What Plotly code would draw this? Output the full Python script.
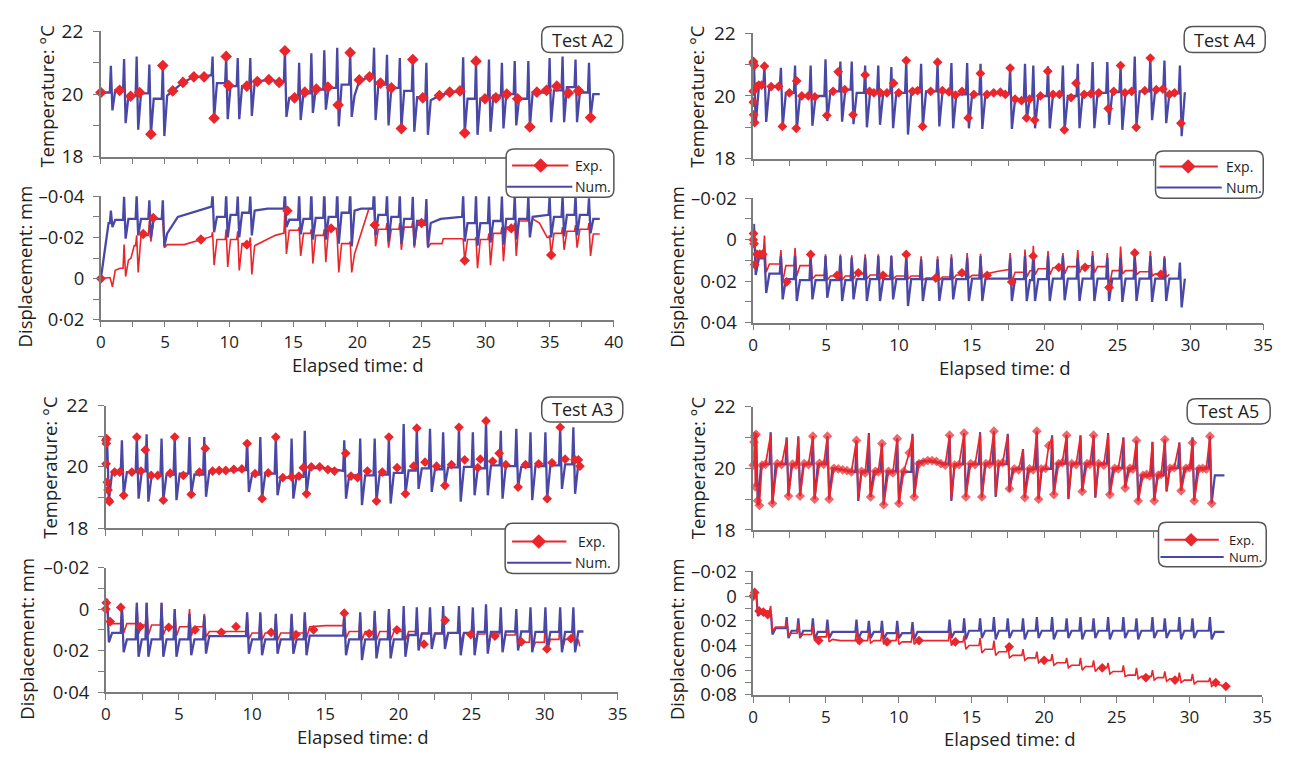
import plotly.graph_objects as go

W, H = 1295, 760
BLUE = '#4a48a6'
RED = '#e8262c'
AX = '#7c7c7c'
TXT = '#1e1e1e'
FONT = 'Open Sans'

# ---------------- tick definitions ----------------
X40_TICKS = [0, 2.5, 5, 7.5, 10, 12.5, 15, 17.5, 20, 22.5, 25, 27.5, 30, 32.5, 35, 37.5, 40]
X40_TEXT = ['0', '', '5', '', '10', '', '15', '', '20', '', '25', '', '30', '', '35', '', '40']
X35_TICKS = [0, 2.5, 5, 7.5, 10, 12.5, 15, 17.5, 20, 22.5, 25, 27.5, 30, 32.5, 35]
X35_TEXT = ['0', '', '5', '', '10', '', '15', '', '20', '', '25', '', '30', '', '35']
T_TICKS = [18, 19, 20, 21, 22]
T_TEXT = ['18', '', '20', '', '22']
D_A2_TICKS = [-0.04, -0.03, -0.02, -0.01, 0, 0.01, 0.02]
D_A2_TEXT = ['\u20130\u00b704', '', '\u20130\u00b702', '', '0', '', '0\u00b702']
D_A4_TICKS = [-0.02, -0.01, 0, 0.01, 0.02, 0.03, 0.04]
D_A4_TEXT = ['\u20130\u00b702', '', '0', '', '0\u00b702', '', '0\u00b704']
D_A5_TICKS = [-0.02, -0.01, 0, 0.01, 0.02, 0.03, 0.04, 0.05, 0.06, 0.07, 0.08]
D_A5_TEXT = ['\u20130\u00b702', '', '0', '', '0\u00b702', '', '0\u00b704', '', '0\u00b706', '', '0\u00b708']

# ================= TEST A2 =================
A2_cyc_t = [0.78, 1.81, 2.79, 3.78, 4.83, 8.71, 9.77, 10.67, 11.65, 14.35, 15.46, 16.41, 17.42, 18.43, 19.44,
            21.3, 22.31, 23.31, 24.32, 25.38, 28.25, 29.25, 30.26, 31.27, 32.27, 33.33, 34.99, 36.0, 37.01, 38.06]
A2_T_peak = [20.9, 21.12, 21.2, 20.94, 20.91, 21.2, 21.2, 21.15, 21.15, 21.38, 21.0, 21.3, 21.4, 21.48, 21.32,
             21.48, 21.25, 21.15, 21.1, 21.0, 21.17, 21.05, 21.1, 21.0, 21.05, 21.05, 21.15, 21.2, 21.1, 21.0]
A2_T_trough = [19.48, 19.07, 18.86, 18.7, 18.66, 19.23, 19.2, 19.2, 19.3, 19.27, 19.17, 19.4, 19.5, 18.97, 19.27,
               19.17, 19.0, 18.9, 18.8, 18.7, 18.76, 18.7, 18.8, 18.9, 19.0, 18.95, 19.1, 19.1, 19.1, 19.25]
A2_T_base = [20.12, 19.95, 20.02, 19.85, 19.95, 20.35, 20.25, 20.25, 20.35, 19.88, 20.02, 20.14, 20.2, 20.3, 19.95,
             20.3, 20.2, 20.1, 19.9, 19.8, 19.85, 19.85, 19.95, 20.0, 19.85, 20.05, 20.12, 20.22, 20.05, 20.0]
A2_T_knot_t = [5.6, 6.4, 7.25, 8.05, 8.55, 12.2, 13.1, 13.9, 20.15, 20.95, 26.4, 27.2, 28.0]
A2_T_knot_v = [20.1, 20.37, 20.55, 20.55, 20.6, 20.4, 20.46, 20.4, 20.42, 20.55, 19.95, 20.05, 20.1]
A2_Texp_t = [0.0, 1.46, 2.32, 3.02, 3.9, 4.83, 5.6, 6.4, 7.25, 8.05, 8.83, 9.77, 9.97, 11.38, 12.2, 13.1, 13.9,
             14.35, 15.1, 15.9, 16.8, 17.7, 18.5, 19.44, 20.15, 20.95, 21.8, 22.65, 23.43, 24.32, 25.1, 26.4, 27.2,
             28.0, 28.37, 29.25, 29.95, 30.8, 31.65, 32.5, 33.45, 34.0, 34.75, 35.55, 36.45, 37.25, 38.18]
A2_Texp_v = [20.05, 20.12, 19.93, 20.05, 18.72, 20.91, 20.1, 20.37, 20.55, 20.55, 19.23, 21.2, 20.27, 20.25, 20.4,
             20.46, 20.37, 21.38, 19.88, 20.06, 20.16, 20.22, 19.65, 21.32, 20.45, 20.55, 20.35, 20.2, 18.9, 21.1,
             19.88, 19.95, 20.06, 20.1, 18.76, 21.05, 19.85, 19.88, 20.0, 19.85, 18.95, 20.06, 20.12, 20.25, 20.03,
             20.1, 19.25]
A2_Dn_peak = [-0.033, -0.0397, -0.0406, -0.038, -0.038, -0.041, -0.041, -0.040, -0.040, -0.042, -0.041, -0.042,
              -0.043, -0.043, -0.042, -0.044, -0.041, -0.041, -0.0397, -0.0387, -0.0405, -0.0405, -0.040, -0.040,
              -0.0405, -0.0405, -0.040, -0.0405, -0.0405, -0.039]
A2_Dn_trough = [-0.025, -0.0194, -0.021, -0.0198, -0.0157, -0.0225, -0.020, -0.020, -0.021, -0.025, -0.0215,
                -0.019, -0.019, -0.017, -0.0157, -0.021, -0.018, -0.017, -0.016, -0.0155, -0.018, -0.016, -0.0175,
                -0.0165, -0.019, -0.020, -0.020, -0.0205, -0.021, -0.022]
A2_Dn_base = [-0.0285, -0.029, -0.029, -0.029, -0.022, -0.030, -0.031, -0.032, -0.033, -0.0286, -0.029, -0.0295,
              -0.030, -0.032, -0.033, -0.031, -0.030, -0.029, -0.028, -0.027, -0.027, -0.027, -0.028, -0.029,
              -0.029, -0.030, -0.030, -0.031, -0.031, -0.029]
A2_Dn_knot_t = [0.3, 0.6, 6.0, 7.5, 8.55, 13.0, 14.2, 20.3, 21.1, 26.5, 28.1, 34.7]
A2_Dn_knot_v = [-0.014, -0.027, -0.030, -0.033, -0.035, -0.034, -0.034, -0.034, -0.034, -0.029, -0.030, -0.031]
A2_De_peak = [0.001, -0.0166, -0.021, -0.028, -0.028, -0.0225, -0.024, -0.023, -0.020, -0.033, -0.025, -0.024,
              -0.024, -0.020, -0.018, -0.034, -0.027, -0.027, -0.028, -0.027, -0.019, -0.020, -0.022, -0.025,
              -0.027, -0.031, -0.021, -0.025, -0.026, -0.027]
A2_De_trough = [0.004, -0.001, -0.003, -0.018, -0.015, -0.0065, -0.0057, -0.004, -0.002, -0.012, -0.011, -0.0073,
                -0.008, -0.003, -0.003, -0.0157, -0.015, -0.014, -0.015, -0.015, -0.0088, -0.005, -0.0065, -0.0085,
                -0.011, -0.025, -0.0115, -0.014, -0.015, -0.011]
A2_De_base = [-0.004, -0.009, -0.021, -0.029, -0.0165, -0.019, -0.019, -0.017, -0.016, -0.0235, -0.022, -0.021,
              -0.0244, -0.017, -0.012, -0.024, -0.024, -0.025, -0.026, -0.017, -0.019, -0.019, -0.022, -0.025,
              -0.028, -0.029, -0.022, -0.023, -0.024, -0.0217]
A2_De_knot_t = [0.5, 1.5, 2.35, 2.6, 6.5, 7.8, 8.55, 12.6, 13.6, 14.2, 20.9, 26.6, 26.7, 28.1, 34.2, 34.8]
A2_De_knot_v = [-0.0005, -0.005, -0.010, -0.016, -0.0165, -0.019, -0.0205, -0.018, -0.021, -0.022, -0.034, -0.017,
                -0.0194, -0.0194, -0.027, -0.020]
A2_Demk_t = [0.0, 3.3, 4.08, 7.8, 11.38, 14.55, 17.95, 21.35, 25.0, 28.37, 32.0, 35.11]
A2_Demk_v = [0.0, -0.0217, -0.0295, -0.019, -0.0165, -0.033, -0.0244, -0.026, -0.027, -0.0088, -0.0244, -0.0115]

# ================= TEST A4 =================
A4_cyc_t = [0.05, 0.77, 1.9, 2.87, 3.94, 4.96, 5.98, 6.76, 7.68, 8.58, 9.48, 10.5, 11.52, 12.65, 13.6, 14.68, 15.6,
            17.63, 18.65, 19.22, 20.23, 21.25, 22.27, 23.29, 24.3, 25.21, 26.18, 27.25, 28.22, 29.28]
A4_T_peak = [21.1, 20.95, 20.9, 20.97, 20.97, 21.17, 21.1, 21.1, 20.97, 20.97, 20.92, 21.13, 21.03, 21.05, 21.05,
             21.05, 21.03, 20.9, 21.03, 20.97, 20.95, 20.97, 21.03, 21.08, 21.08, 20.97, 21.26, 21.21, 21.13, 20.97]
A4_T_trough = [19.1, 19.17, 19.02, 18.92, 19.05, 19.2, 19.18, 19.1, 19.0, 19.08, 18.97, 18.77, 19.02, 19.03, 18.97,
               18.97, 18.95, 18.95, 19.25, 18.97, 18.97, 18.92, 18.97, 18.97, 19.08, 18.92, 19.05, 19.23, 19.13, 18.72]
A4_T_base = [20.3, 20.3, 20.1, 20.0, 20.0, 20.15, 20.2, 20.1, 20.1, 20.1, 20.1, 20.12, 20.15, 20.15, 20.05, 20.05,
             20.08, 19.9, 19.95, 20.0, 20.05, 20.0, 20.08, 20.1, 20.12, 20.12, 20.15, 20.2, 20.08, 20.12]
A4_Texp_t = [0.0, 0.02, 0.08, 0.0, 0.01, 0.03, 0.1, 0.15, 0.25, 0.38, 0.58, 0.77, 1.23, 1.73, 2.0, 2.48, 2.98, 2.95,
             3.33, 3.78, 4.23, 5.05, 5.48, 5.83, 6.28, 6.85, 7.68, 7.98, 8.28, 8.73, 9.18, 9.63, 9.98, 10.5, 10.93,
             11.28, 11.62, 12.18, 12.65, 12.98, 13.43, 13.88, 14.33, 14.75, 15.14, 15.59, 16.04, 16.5, 16.96, 17.3,
             17.63, 17.97, 18.41, 18.75, 18.97, 19.31, 19.71, 20.21, 20.57, 21.01, 21.35, 21.81, 22.15, 22.71, 23.17,
             23.71, 24.36, 24.74, 25.21, 25.51, 25.97, 26.28, 26.87, 27.25, 27.66, 28.11, 28.56, 28.91, 29.35]
A4_Texp_v = [21.05, 21.1, 20.97, 20.15, 19.8, 19.4, 19.15, 20.25, 20.3, 20.35, 20.35, 20.95, 20.3, 20.3, 19.03, 20.1,
             20.48, 18.97, 20.0, 20.0, 19.97, 19.38, 20.15, 20.77, 20.2, 19.4, 20.67, 20.15, 20.1, 20.1, 20.1, 20.41,
             20.1, 21.13, 20.15, 20.17, 19.03, 20.15, 21.08, 20.17, 20.13, 20.03, 20.15, 19.3, 20.05, 20.72, 20.05,
             20.1, 20.12, 20.05, 20.89, 19.9, 19.85, 19.3, 19.9, 19.23, 20.0, 20.79, 20.05, 20.05, 18.92, 19.95, 20.41,
             20.05, 20.07, 20.1, 19.6, 20.15, 20.97, 20.1, 20.15, 19.0, 20.17, 21.21, 20.2, 20.22, 20.05, 20.1, 19.13]
A4_Dn_peak = [-0.0076, 0.0071, 0.0079, 0.0079, 0.0079, 0.0079, 0.0079, 0.0087, 0.0087, 0.0079, 0.0079, 0.0079,
              0.0095, 0.0095, 0.0087, 0.0087, 0.0079, 0.0087, 0.0079, 0.0087, 0.0079, 0.0079, 0.0087, 0.0079,
              0.0087, 0.0087, 0.0079, 0.0079, 0.0087, 0.011]
A4_Dn_trough = [0.017, 0.0257, 0.0288, 0.0296, 0.0288, 0.028, 0.0296, 0.0288, 0.0296, 0.0296, 0.0288, 0.032, 0.0296,
                0.0296, 0.0288, 0.0296, 0.0296, 0.0296, 0.0296, 0.0296, 0.0296, 0.0292, 0.0296, 0.0296, 0.0296, 0.03,
                0.0296, 0.03, 0.0296, 0.0327]
A4_Dn_base = [0.009, 0.0164, 0.019, 0.0195, 0.0195, 0.0195, 0.0195, 0.019, 0.019, 0.019, 0.019, 0.019, 0.019, 0.019,
              0.019, 0.0188, 0.0188, 0.019, 0.0195, 0.019, 0.0188, 0.0188, 0.0188, 0.0188, 0.0188, 0.0188, 0.0188,
              0.0188, 0.0188, 0.0188]
A4_De_peak = [-0.003, -0.002, 0.005, 0.004, 0.007, 0.007, 0.007, 0.0075, 0.007, 0.007, 0.0075, 0.0065, 0.008, 0.008,
              0.007, 0.0065, 0.0068, 0.0064, 0.0048, 0.003, 0.0055, 0.0064, 0.005, 0.0055, 0.0064, 0.0033, 0.0055,
              0.0055, 0.0079]
A4_De_trough = [0.012, 0.0157, 0.0204, 0.0175, 0.019, 0.0195, 0.0195, 0.019, 0.019, 0.019, 0.019, 0.019, 0.0195,
                0.0195, 0.019, 0.0185, 0.0185, 0.0204, 0.018, 0.017, 0.017, 0.0165, 0.016, 0.016, 0.023, 0.0165,
                0.017, 0.0175, 0.018]
A4_De_base = [0.007, 0.0117, 0.0125, 0.0125, 0.0172, 0.0175, 0.0175, 0.0165, 0.017, 0.0175, 0.0175, 0.0175, 0.0185,
              0.018, 0.017, 0.0172, 0.0165, 0.0157, 0.015, 0.014, 0.0135, 0.013, 0.0126, 0.013, 0.0149, 0.0149,
              0.0155, 0.0165, 0.0167]
A4_De_knot_t = [16.8, 17.4]
A4_De_knot_v = [0.0152, 0.0144]
A4_Demk_t = [0.0, 0.02, 0.06, 0.1, 0.25, 0.45, 0.65, 2.3, 3.94, 5.75, 7.21, 8.91, 10.5, 12.52, 14.32, 16.05, 17.74,
             19.21, 20.97, 22.77, 24.42, 26.18, 27.96]
A4_Demk_v = [0.0, -0.003, 0.002, 0.012, 0.007, 0.007, 0.007, 0.0203, 0.0071, 0.0172, 0.016, 0.0172, 0.0071, 0.0185,
             0.016, 0.0172, 0.0204, 0.0079, 0.0133, 0.0133, 0.023, 0.0064, 0.0167]

# ================= TEST A3 =================
A3_cyc_t = [0.09, 1.1, 2.12, 2.79, 3.81, 4.71, 5.72, 6.73, 9.66, 10.56, 11.62, 12.7, 13.6, 16.3, 17.39, 18.38, 19.35,
            20.36, 21.26, 22.16, 23.06, 24.14, 25.09, 25.99, 27.0, 28.06, 29.03, 30.05, 31.06, 31.96]
A3_T_peak = [20.85, 20.87, 20.97, 21.06, 20.92, 20.97, 20.97, 20.97, 20.87, 20.97, 20.97, 20.92, 21.18, 20.87, 20.92,
             20.92, 20.97, 21.4, 21.26, 21.24, 21.13, 21.29, 21.13, 21.5, 21.18, 21.24, 21.13, 21.13, 21.29, 21.29]
A3_T_trough = [18.9, 19.07, 18.96, 18.86, 18.91, 18.91, 19.12, 19.02, 19.18, 18.96, 19.07, 18.96, 19.12, 18.96, 18.75,
               18.88, 18.8, 19.12, 19.28, 19.18, 19.39, 18.86, 19.07, 19.07, 18.96, 19.34, 18.91, 18.96, 19.28, 19.12]
A3_T_base = [19.83, 19.83, 19.85, 19.72, 19.75, 19.78, 19.75, 19.84, 19.75, 19.78, 19.65, 19.67, 19.95, 19.72, 19.72,
             19.75, 19.8, 19.88, 19.95, 19.92, 19.98, 20.0, 19.95, 20.05, 20.02, 20.0, 20.02, 20.05, 20.08, 20.1]
A3_T_knot_t = [7.5, 8.5, 9.4, 14.3, 15.2, 16.1]
A3_T_knot_v = [19.86, 19.88, 19.9, 19.97, 19.95, 19.87]
A3_Texp_t = [0.0, 0.03, 0.06, 0.02, 0.1, 0.15, 0.2, 0.25, 0.6, 0.95, 1.22, 1.78, 2.12, 2.4, 2.7, 3.1, 3.55, 3.93,
             4.4, 4.71, 5.3, 5.84, 6.4, 6.8, 7.3, 7.75, 8.2, 8.75, 9.3, 9.66, 10.2, 10.68, 11.1, 11.62, 12.1, 12.7,
             13.2, 13.5, 13.72, 14.05, 14.62, 15.18, 15.63, 16.4, 16.76, 17.21, 17.88, 18.5, 18.9, 19.35, 19.91,
             20.48, 21.04, 21.26, 21.82, 22.61, 23.18, 23.63, 24.14, 24.53, 25.43, 25.6, 25.99, 26.44, 26.89, 27.34,
             28.18, 28.69, 29.59, 30.17, 30.5, 31.06, 31.4, 32.07, 32.3, 32.41]
A3_Texp_v = [20.87, 20.76, 20.92, 20.1, 19.5, 19.24, 18.91, 18.86, 19.83, 19.83, 19.07, 19.83, 20.97, 19.86, 20.55,
             19.72, 19.72, 18.91, 19.79, 20.97, 19.72, 19.1, 19.83, 20.6, 19.86, 19.88, 19.88, 19.92, 19.93, 20.76,
             19.78, 18.96, 19.8, 20.97, 19.65, 19.67, 19.7, 19.97, 19.12, 20.0, 20.0, 19.91, 19.86, 20.44, 19.7, 19.65,
             19.86, 18.88, 19.83, 20.97, 19.97, 19.12, 20.02, 21.26, 20.15, 20.02, 19.39, 20.07, 21.29, 20.23, 19.97,
             20.25, 21.5, 20.18, 20.44, 20.07, 19.34, 20.07, 20.1, 18.96, 20.13, 21.29, 20.25, 20.23, 20.23, 20.02]
A3_Dn_peak = [-0.005, -0.001, -0.003, -0.003, -0.003, 0.0, 0.0023, 0.0031, 0.0015, 0.0015, 0.0023, 0.0023, 0.0015,
              0.0023, 0.0015, 0.0008, 0.0, -0.0015, -0.0008, -0.0008, -0.0015, -0.0015, -0.0008, -0.0023, -0.0008,
              0.0, -0.0008, -0.0008, -0.0008, -0.0008]
A3_Dn_trough = [0.016, 0.0208, 0.023, 0.023, 0.023, 0.023, 0.0223, 0.0215, 0.0215, 0.0223, 0.0215, 0.0215, 0.0223,
                0.0223, 0.0246, 0.0238, 0.0238, 0.023, 0.02, 0.0192, 0.0192, 0.0223, 0.0223, 0.0215, 0.0208, 0.02,
                0.0208, 0.02, 0.0208, 0.0208]
A3_Dn_base = [0.0115, 0.0146, 0.0146, 0.0146, 0.0146, 0.0146, 0.0146, 0.013, 0.0146, 0.0146, 0.0146, 0.0146, 0.0128,
              0.0146, 0.0146, 0.0146, 0.0146, 0.0125, 0.0118, 0.0118, 0.0115, 0.0115, 0.011, 0.011, 0.0108, 0.0108,
              0.011, 0.011, 0.011, 0.0108]
A3_De_peak = [-0.003, -0.002, -0.003, -0.003, -0.003, 0.0, 0.0, 0.0023, 0.0023, 0.0023, 0.0031, 0.0031, 0.0023,
              0.0015, 0.003, 0.0015, 0.0008, 0.003, 0.004, 0.004, 0.004, 0.003, 0.004, 0.003, 0.004, 0.004, 0.004,
              0.005, 0.004, 0.004]
A3_De_trough = [0.006, 0.0115, 0.012, 0.0125, 0.0125, 0.013, 0.013, 0.0135, 0.0145, 0.015, 0.015, 0.0155, 0.014,
                0.014, 0.015, 0.015, 0.015, 0.015, 0.018, 0.017, 0.016, 0.016, 0.016, 0.017, 0.017, 0.019, 0.02,
                0.021, 0.02, 0.02]
A3_De_base = [0.007, 0.007, 0.0077, 0.0077, 0.0085, 0.0085, 0.0085, 0.0108, 0.0115, 0.0115, 0.0115, 0.0115, 0.0085,
              0.0108, 0.0108, 0.0108, 0.0108, 0.0108, 0.0115, 0.0115, 0.0115, 0.0115, 0.012, 0.012, 0.0125, 0.016,
              0.016, 0.0146, 0.0146, 0.0146]
A3_De_knot_t = [15.0, 32.4]
A3_De_knot_v = [0.008, 0.018]
A3_Demk_t = [0.0, 0.03, 0.3, 1.02, 2.35, 4.3, 6.1, 7.9, 8.9, 11.3, 13.0, 14.2, 16.3, 18.0, 19.9, 21.75, 23.2, 24.95,
             26.6, 28.4, 30.15, 31.8]
A3_Demk_v = [0.0, -0.003, 0.006, -0.0008, 0.0085, 0.0088, 0.01, 0.0112, 0.0085, 0.0112, 0.0123, 0.01, 0.002, 0.0118,
             0.01, 0.0169, 0.0054, 0.0123, 0.013, 0.0158, 0.0192, 0.0143]

# ================= TEST A5 =================
A5_cyc_t = [0.2, 1.2, 2.3, 3.1, 4.1, 5.1, 7.1, 7.95, 8.85, 9.9, 10.95, 13.5, 14.5, 15.6, 16.55, 17.5, 18.55, 19.5,
            20.55, 21.55, 22.5, 23.4, 24.4, 25.45, 26.35, 27.45, 28.3, 29.3, 30.2, 31.4]
A5_T_peak = [21.14, 21.17, 21.0, 21.04, 21.04, 21.04, 20.9, 21.14, 20.8, 20.96, 21.12, 21.07, 21.14, 21.17, 21.2,
             21.12, 20.62, 21.2, 21.07, 21.07, 21.07, 21.07, 21.14, 21.0, 20.9, 20.86, 20.93, 20.83, 21.0, 21.04]
A5_T_trough = [18.8, 18.84, 19.1, 19.1, 19.0, 19.0, 18.94, 19.07, 18.82, 18.86, 19.07, 18.94, 19.07, 19.05, 19.07,
               19.25, 19.05, 19.0, 19.15, 19.0, 19.25, 19.05, 19.15, 19.36, 18.94, 18.94, 19.25, 19.27, 18.94, 18.86]
A5_T_base = [20.13, 20.13, 20.13, 20.13, 20.13, 20.0, 19.9, 19.9, 19.9, 19.88, 20.2, 20.13, 20.13, 20.15, 20.13,
             19.98, 19.98, 19.98, 20.15, 20.15, 20.15, 20.15, 20.0, 20.0, 19.77, 19.77, 20.0, 20.0, 20.0, 19.77]
A5_T_knot_t = [6.0, 6.8, 11.8, 12.5, 13.2]
A5_T_knot_v = [19.95, 19.88, 20.25, 20.2, 20.13]
A5_Texp_t = [0.0, 0.05, 0.1, 0.15, 0.2, 0.3, 0.42, 0.6, 0.85, 1.2, 1.32, 1.65, 1.95, 2.3, 2.42, 2.7, 2.95, 3.1, 3.22,
             3.5, 3.8, 4.1, 4.22, 4.55, 4.85, 5.1, 5.22, 5.55, 5.85, 6.15, 6.45, 6.75, 7.1, 7.22, 7.45, 7.7, 7.95,
             8.07, 8.4, 8.6, 8.85, 8.97, 9.3, 9.6, 9.9, 10.02, 10.35, 10.73, 10.95, 11.07, 11.4, 11.7, 12.0, 12.3,
             12.6, 12.9, 13.2, 13.5, 13.62, 13.85, 14.15, 14.5, 14.62, 14.95, 15.25, 15.6, 15.72, 16.0, 16.25, 16.55,
             16.67, 16.85, 17.15, 17.5, 17.62, 17.95, 18.25, 18.55, 18.67, 19.0, 19.25, 19.5, 19.62, 19.8, 20.1,
             20.32, 20.55, 20.67, 21.0, 21.25, 21.55, 21.67, 21.9, 22.2, 22.5, 22.62, 22.95, 23.15, 23.4, 23.52,
             23.75, 24.1, 24.4, 24.52, 24.85, 25.1, 25.45, 25.57, 25.9, 26.1, 26.35, 26.47, 26.8, 27.05, 27.25,
             27.45, 27.57, 27.85, 28.05, 28.3, 28.42, 28.65, 28.95, 29.3, 29.42, 29.75, 30.0, 30.2, 30.32, 30.65,
             30.9, 31.15, 31.4, 31.52]
A5_Texp_v = [20.1, 20.85, 21.05, 19.4, 21.1, 18.95, 18.8, 20.1, 20.13, 21.1, 18.86, 20.15, 20.12, 20.95, 19.1, 20.13,
             20.1, 21.0, 19.1, 20.15, 20.12, 21.04, 19.0, 20.16, 20.13, 21.04, 19.0, 20.0, 19.98, 19.95, 19.92, 19.88,
             20.9, 18.98, 19.9, 19.85, 21.1, 19.07, 19.9, 19.88, 20.8, 18.82, 19.9, 19.85, 20.96, 18.86, 19.9, 20.5,
             21.05, 19.07, 20.15, 20.2, 20.25, 20.25, 20.22, 20.15, 20.1, 21.07, 18.98, 20.1, 20.12, 21.14, 19.07,
             20.15, 20.12, 21.12, 19.07, 20.15, 20.13, 21.2, 19.1, 20.15, 20.18, 21.08, 19.34, 19.98, 19.95, 20.6,
             19.05, 19.98, 19.95, 21.2, 19.0, 19.98, 20.0, 20.73, 21.0, 19.15, 20.15, 20.18, 21.07, 19.02, 20.15,
             20.12, 21.05, 19.25, 20.15, 20.13, 21.07, 19.05, 20.15, 20.1, 21.1, 19.15, 20.0, 19.98, 20.98, 19.36,
             20.0, 19.97, 20.9, 18.94, 19.77, 19.8, 19.75, 20.85, 18.94, 19.78, 19.8, 20.93, 19.25, 20.0, 20.02,
             20.83, 19.27, 20.0, 20.02, 20.83, 18.94, 19.98, 20.0, 19.97, 21.04, 18.86]
A5_Texp_mk = [1, 1, 1, 1, 1, 1, 1, 1, 1, 0, 1, 1, 1, 0, 1, 1, 1, 0, 1, 1, 1, 1, 1, 1, 1, 1, 1, 1, 1, 1, 1, 1, 1, 0, 1,
              1, 0, 1, 1, 1, 1, 1, 1, 1, 1, 1, 1, 1, 0, 1, 1, 1, 1, 1, 1, 1, 1, 1, 0, 1, 1, 1, 1, 1, 1, 0, 1, 1, 1, 1,
              0, 1, 1, 0, 1, 1, 1, 0, 1, 1, 1, 1, 1, 1, 1, 1, 0, 1, 1, 1, 1, 0, 1, 1, 0, 1, 1, 1, 1, 0, 1, 1, 0, 1, 1,
              1, 0, 1, 1, 1, 1, 1, 1, 1, 1, 0, 1, 1, 1, 1, 0, 1, 1, 0, 1, 1, 1, 1, 1, 1, 1, 1, 1, 1]
A5_Dn_peak = [-0.004, 0.012, 0.017, 0.018, 0.018, 0.019, 0.019, 0.02, 0.02, 0.02, 0.021, 0.019, 0.018, 0.018, 0.017,
              0.018, 0.018, 0.017, 0.017, 0.018, 0.017, 0.018, 0.017, 0.017, 0.018, 0.017, 0.018, 0.017, 0.018, 0.017]
A5_Dn_trough = [0.016, 0.031, 0.034, 0.034, 0.035, 0.034, 0.035, 0.034, 0.035, 0.034, 0.035, 0.034, 0.035, 0.034,
                0.035, 0.034, 0.035, 0.034, 0.035, 0.034, 0.035, 0.034, 0.035, 0.034, 0.035, 0.034, 0.034, 0.035,
                0.034, 0.035]
A5_Dn_base = [0.013, 0.026, 0.028, 0.028, 0.029, 0.029, 0.029, 0.029, 0.03, 0.03, 0.029, 0.029, 0.028, 0.028, 0.028,
              0.028, 0.028, 0.028, 0.028, 0.028, 0.028, 0.028, 0.028, 0.028, 0.028, 0.028, 0.028, 0.028, 0.028, 0.029]
A5_De_peak = [-0.003, 0.008, 0.02, 0.022, 0.024, 0.026, 0.028, 0.028, 0.028, 0.028, 0.028, 0.028, 0.032, 0.034,
              0.036, 0.040, 0.043, 0.045, 0.047, 0.050, 0.050, 0.052, 0.054, 0.056, 0.058, 0.060, 0.061, 0.062,
              0.063, 0.066]
A5_De_trough = [0.015, 0.028, 0.032, 0.033, 0.036, 0.037, 0.038, 0.038, 0.039, 0.039, 0.039, 0.040, 0.043, 0.046,
                0.048, 0.050, 0.052, 0.054, 0.056, 0.058, 0.060, 0.061, 0.063, 0.065, 0.067, 0.068, 0.069, 0.070,
                0.071, 0.073]
A5_De_base = [0.012, 0.025, 0.03, 0.031, 0.033, 0.035, 0.036, 0.036, 0.036, 0.037, 0.036, 0.037, 0.040, 0.043, 0.045,
              0.048, 0.050, 0.052, 0.054, 0.056, 0.057, 0.058, 0.061, 0.064, 0.065, 0.066, 0.067, 0.068, 0.069, 0.071]
A5_De_knot_t = [6.0, 12.5, 32.5]
A5_De_knot_v = [0.036, 0.036, 0.073]
A5_Demk_t = [0.0, 0.1, 0.4, 0.7, 1.0, 4.5, 7.3, 9.2, 11.4, 13.9, 17.6, 20.0, 24.0, 27.0, 29.0, 31.8, 32.5]
A5_Demk_v = [0.0, -0.003, 0.012, 0.013, 0.015, 0.036, 0.036, 0.037, 0.036, 0.037, 0.041, 0.052, 0.058, 0.066, 0.068,
             0.07, 0.073]


# ---------------- helpers ----------------
def X(px):
    return px / W


def Y(py):
    return 1 - py / H


def build(t0, v0, st, p1, p2, base, kt=(), kv=(), t_end=None, a=0.08, b=0.12, c=0.34):
    """Polyline through read baseline knots and read spike extremes."""
    ev = [(t, 0, v, None, None) for t, v in zip(kt, kv)]
    ev += [(t, 1, u, d, s) for t, u, d, s in zip(st, p1, p2, base)]
    ev.sort(key=lambda e: e[0])
    xs, ys, lvl = [t0], [v0], v0
    for t, kind, u, d, s in ev:
        if kind == 0:
            xs.append(t)
            ys.append(u)
            lvl = u
        else:
            xs += [max(t - a, xs[-1]), t, t + b, t + c]
            ys += [lvl, u, d, s]
            lvl = s
    if t_end is not None and t_end > xs[-1]:
        xs.append(t_end)
        ys.append(lvl)
    return xs, ys


def ppath(pts):
    s = ''
    for p in pts:
        if p[0] == 'Q':
            s += 'Q%.5f,%.5f %.5f,%.5f ' % (X(p[1]), Y(p[2]), X(p[3]), Y(p[4]))
        else:
            s += '%s%.5f,%.5f ' % (p[0], X(p[1]), Y(p[2]))
    return s + 'Z'


def rrect(x0, y0, x1, y1, r=9):
    pts = [('M', x0 + r, y0), ('L', x1 - r, y0), ('Q', x1, y0, x1, y0 + r), ('L', x1, y1 - r),
           ('Q', x1, y1, x1 - r, y1), ('L', x0 + r, y1), ('Q', x0, y1, x0, y1 - r), ('L', x0, y0 + r),
           ('Q', x0, y0, x0 + r, y0)]
    return dict(type='path', path=ppath(pts), xref='paper', yref='paper', layer='above',
                line=dict(color='#555555', width=1.5), fillcolor='white')


fig = go.Figure()
layout = {}
shapes = []
annotations = []


def ax_common():
    return dict(showline=True, linecolor=AX, linewidth=1.5, ticks='outside', ticklen=6, tickwidth=1.3,
                tickcolor=AX, showgrid=False, zeroline=False, tickmode='array', fixedrange=True,
                tickfont=dict(family=FONT, size=19, color=TXT))


def key(kind, n):
    return kind if n == 1 else '%s%d' % (kind, n)


def setup_panel(nT, xpx, ypxT, ypxD, xmax, xtv, xtt, dtv, dtt, drange):
    nD = nT + 1
    for n, ypx, show in ((nT, ypxT, False), (nD, ypxD, True)):
        xa = ax_common()
        xa.update(domain=[X(xpx[0]), X(xpx[1])], range=[0, xmax], anchor=key('y', n), tickvals=xtv,
                  ticktext=xtt, showticklabels=show, ticklabelstandoff=0,
                  tickfont=dict(family=FONT, size=17, color=TXT))
        layout[key('xaxis', n)] = xa
    ya = ax_common()
    ya.update(domain=[Y(ypxT[1]), Y(ypxT[0])], range=[18, 22], anchor=key('x', nT), tickvals=T_TICKS,
              ticktext=T_TEXT, ticklabelstandoff=6)
    layout[key('yaxis', nT)] = ya
    yd = ax_common()
    yd.update(domain=[Y(ypxD[1]), Y(ypxD[0])], range=drange, anchor=key('x', nD), tickvals=dtv, ticktext=dtt,
              ticklabelstandoff=5, tickfont=dict(family=FONT, size=18.5, color=TXT))
    layout[key('yaxis', nD)] = yd


def line(n, xy, color, width):
    fig.add_trace(go.Scatter(x=xy[0], y=xy[1], mode='lines', line=dict(color=color, width=width),
                             xaxis=key('x', n), yaxis=key('y', n), showlegend=False, hoverinfo='skip'))


def marks(n, xs, ys, size, with_line=False, flags=None):
    sz = size if flags is None else [size if f else 0 for f in flags]
    fig.add_trace(go.Scatter(x=xs, y=ys, mode='lines+markers' if with_line else 'markers',
                             line=dict(color=RED, width=1.7),
                             marker=dict(symbol='diamond', size=sz, color=RED, line=dict(width=0)),
                             xaxis=key('x', n), yaxis=key('y', n), showlegend=False, hoverinfo='skip',
                             cliponaxis=False))


def legend(box, rows, fsize, dr):
    """Rounded legend box drawn with shapes; rows = (name, color, x0, x1, ytxt, xtext, diamond_x)."""
    x0, y0, x1, y1 = box
    shapes.append(rrect(x0, y0, x1, y1, 8))
    for name, color, lx0, lx1, yy, xt, dx in rows:
        shapes.append(dict(type='line', xref='paper', yref='paper', layer='above', x0=X(lx0), x1=X(lx1),
                           y0=Y(yy), y1=Y(yy), line=dict(color=color, width=2)))
        if dx is not None:
            shapes.append(dict(type='path', xref='paper', yref='paper', layer='above', fillcolor=color,
                               line=dict(color=color, width=0),
                               path=ppath([('M', dx, yy - dr), ('L', dx + dr, yy), ('L', dx, yy + dr),
                                           ('L', dx - dr, yy)])))
        annotations.append(dict(text=name, x=X(xt), y=Y(yy), xref='paper', yref='paper', showarrow=False,
                                xanchor='left', yanchor='middle', font=dict(family=FONT, size=fsize, color=TXT)))


def label(text, box):
    x0, y0, x1, y1 = box
    shapes.append(rrect(x0, y0, x1, y1, 9))
    annotations.append(dict(text=text, x=X((x0 + x1) / 2), y=Y((y0 + y1) / 2), xref='paper', yref='paper',
                            showarrow=False, font=dict(family=FONT, size=18, color=TXT), xanchor='center',
                            yanchor='middle'))


def titles(tT, tD, tE):
    for txt, (px, py), ang in (('Temperature: \u00b0C', tT, -90), ('Displacement: mm', tD, -90),
                               ('Elapsed time: d', tE, 0)):
        annotations.append(dict(text=txt, x=X(px), y=Y(py), xref='paper', yref='paper', showarrow=False,
                                textangle=ang, font=dict(family=FONT, size=18.5, color=TXT), xanchor='center',
                                yanchor='middle'))


# ---------- A2 ----------
setup_panel(1, (97, 616), (18, 148), (189, 317), 40, X40_TICKS, X40_TEXT, D_A2_TICKS, D_A2_TEXT, [0.02, -0.04])
line(1, build(0, 20.05, A2_cyc_t, A2_T_peak, A2_T_trough, A2_T_base, A2_T_knot_t, A2_T_knot_v, 38.9), BLUE, 2.3)
marks(1, A2_Texp_t, A2_Texp_v, 9)
line(2, build(0, 0.0, A2_cyc_t, A2_De_peak, A2_De_trough, A2_De_base, A2_De_knot_t, A2_De_knot_v, 38.9), RED, 1.6)
line(2, build(0, 0.0, A2_cyc_t, A2_Dn_peak, A2_Dn_trough, A2_Dn_base, A2_Dn_knot_t, A2_Dn_knot_v, 38.9), BLUE, 2.3)
marks(2, A2_Demk_t, A2_Demk_v, 8)
legend((507, 140, 616, 190), [('Exp.', RED, 513, 570, 157, 575, 542), ('Num.', BLUE, 508, 574, 179, 575, None)],
       14, 7.5)
label('Test A2', (543, 13, 625, 40))
titles((42, 85), (20, 262), (357, 363))

# ---------- A4 ----------
setup_panel(3, (757, 1273), (20, 150), (191, 320), 35, X35_TICKS, X35_TEXT, D_A4_TICKS, D_A4_TEXT, [0.04, -0.02])
line(3, build(0, 20.15, A4_cyc_t, A4_T_peak, A4_T_trough, A4_T_base, (), (), 29.62), BLUE, 2.3)
marks(3, A4_Texp_t, A4_Texp_v, 7.5)
line(4, build(0, 0.0, A4_cyc_t, A4_De_peak, A4_De_trough, A4_De_base, A4_De_knot_t, A4_De_knot_v, 28.5), RED, 1.6)
line(4, build(0, 0.0, A4_cyc_t, A4_Dn_peak, A4_Dn_trough, A4_Dn_base, (), (), 29.62), BLUE, 2.3)
marks(4, A4_Demk_t, A4_Demk_v, 7.5)
legend((1164, 142, 1273, 191), [('Exp.', RED, 1168, 1227, 158, 1233, 1197),
                                ('Num.', BLUE, 1165, 1231, 180, 1233, None)], 14, 7.5)
label('Test A4', (1193, 13, 1275, 40))
titles((700, 85), (680, 262), (1012, 367))

# ---------- A3 ----------
setup_panel(5, (102, 620), (406, 533), (574, 703), 35, X35_TICKS, X35_TEXT, D_A4_TICKS, D_A4_TEXT, [0.04, -0.02])
line(5, build(0, 20.1, A3_cyc_t, A3_T_peak, A3_T_trough, A3_T_base, A3_T_knot_t, A3_T_knot_v, 32.4), BLUE, 2.3)
marks(5, A3_Texp_t, A3_Texp_v, 7.5)
line(6, build(0, 0.0, A3_cyc_t, A3_De_peak, A3_De_trough, A3_De_base, A3_De_knot_t, A3_De_knot_v, 32.4), RED, 1.6)
line(6, build(0, 0.0, A3_cyc_t, A3_Dn_peak, A3_Dn_trough, A3_Dn_base, (), (), 32.65), BLUE, 2.3)
marks(6, A3_Demk_t, A3_Demk_v, 7.5)
legend((506, 528, 621, 580), [('Exp.', RED, 513, 568, 547, 578, 540), ('Num.', BLUE, 508, 573, 569, 575, None)],
       14, 7.5)
label('Test A3', (543, 397, 625, 423))
titles((45, 470), (22, 648), (362, 749))

# ---------- A5 ----------
setup_panel(7, (757, 1272), (407, 535), (578, 706), 35, X35_TICKS, X35_TEXT, D_A5_TICKS, D_A5_TEXT, [0.08, -0.02])
line(7, build(0, 20.1, A5_cyc_t, A5_T_peak, A5_T_trough, A5_T_base, A5_T_knot_t, A5_T_knot_v, 32.4), BLUE, 2.2)
marks(7, A5_Texp_t, A5_Texp_v, 7.5, with_line=True, flags=A5_Texp_mk)
line(8, build(0, 0.0, A5_cyc_t, A5_Dn_peak, A5_Dn_trough, A5_Dn_base, (), (), 32.4), BLUE, 2.2)
line(8, build(0, 0.0, A5_cyc_t, A5_De_peak, A5_De_trough, A5_De_base, A5_De_knot_t, A5_De_knot_v, 32.5), RED, 1.6)
marks(8, A5_Demk_t, A5_Demk_v, 7.5)
legend((1167, 527, 1276, 573), [('Exp.', RED, 1173, 1228, 545, 1236, 1200),
                                ('Num.', BLUE, 1169, 1233, 563, 1236, None)], 13, 7)
label('Test A5', (1196, 399, 1280, 425))
titles((700, 470), (680, 648), (1017, 751))

fig.update_layout(width=W, height=H, margin=dict(l=0, r=0, t=0, b=0), paper_bgcolor='white',
                  plot_bgcolor='rgba(0,0,0,0)', font=dict(family=FONT, color=TXT), shapes=shapes,
                  annotations=annotations, showlegend=False, **layout)
fig.write_html('out.html', config={'displayModeBar': False})
